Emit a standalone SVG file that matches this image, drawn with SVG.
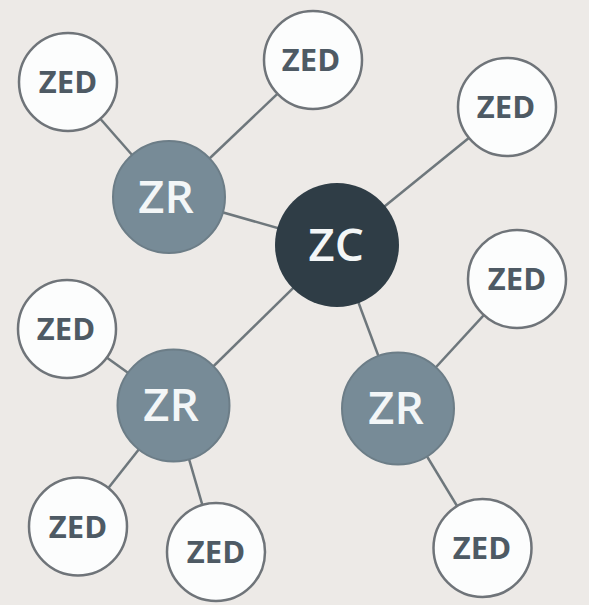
<svg xmlns="http://www.w3.org/2000/svg" width="589" height="605" viewBox="0 0 589 605">
<style>
.bg{fill:#EDEAE7}
.edge{stroke:#6E777C;stroke-width:2.5;fill:none}
.zed circle{fill:#FCFDFD;stroke:#6F7479;stroke-width:2.5}
.zed text{font-family:"Open Sans","Liberation Sans",sans-serif;font-weight:700;font-size:31px;fill:#4E5A64;text-anchor:middle}
.zr circle{fill:#778B97;stroke:#6C7D87;stroke-width:2}
.zc circle{fill:#2F3D46}
.big text{font-family:"Open Sans","Liberation Sans",sans-serif;font-weight:600;font-size:46px;fill:#F3F6F7;text-anchor:middle}
</style>
<rect class="bg" x="0" y="0" width="589" height="605"/>
<g id="connectors">
<line class="edge" x1="169" y1="197" x2="68" y2="82"/>
<line class="edge" x1="169" y1="197" x2="313" y2="60"/>
<line class="edge" x1="169" y1="197" x2="337" y2="245"/>
<line class="edge" x1="337" y1="245" x2="507" y2="107"/>
<line class="edge" x1="337" y1="245" x2="173.5" y2="405.5"/>
<line class="edge" x1="337" y1="245" x2="398" y2="408.5"/>
<line class="edge" x1="398" y1="408.5" x2="517" y2="279"/>
<line class="edge" x1="398" y1="408.5" x2="482.5" y2="548"/>
<line class="edge" x1="173.5" y1="405.5" x2="67" y2="329"/>
<line class="edge" x1="173.5" y1="405.5" x2="78" y2="526.5"/>
<line class="edge" x1="173.5" y1="405.5" x2="216" y2="552"/>
</g>
<g id="zc" class="zc big"><circle cx="337" cy="245" r="62"/><text x="336" y="261">ZC</text></g>
<g id="zr1" class="zr big"><circle cx="169" cy="197" r="56"/><text x="166" y="213">ZR</text></g>
<g id="zr2" class="zr big"><circle cx="173.5" cy="405.5" r="56"/><text x="171" y="421">ZR</text></g>
<g id="zr3" class="zr big"><circle cx="398" cy="408.5" r="56"/><text x="396" y="424">ZR</text></g>
<g id="zed1" class="zed"><circle cx="68" cy="82" r="49"/><text x="68" y="93">ZED</text></g>
<g id="zed2" class="zed"><circle cx="313" cy="60" r="49"/><text x="311" y="71">ZED</text></g>
<g id="zed3" class="zed"><circle cx="507" cy="107" r="49"/><text x="506" y="118">ZED</text></g>
<g id="zed4" class="zed"><circle cx="517" cy="279" r="49"/><text x="517" y="290">ZED</text></g>
<g id="zed5" class="zed"><circle cx="67" cy="329" r="49"/><text x="66" y="340">ZED</text></g>
<g id="zed6" class="zed"><circle cx="78" cy="526.5" r="49"/><text x="78" y="538">ZED</text></g>
<g id="zed7" class="zed"><circle cx="216" cy="552" r="49"/><text x="216" y="563">ZED</text></g>
<g id="zed8" class="zed"><circle cx="482.5" cy="548" r="49"/><text x="482" y="559">ZED</text></g>
</svg>
